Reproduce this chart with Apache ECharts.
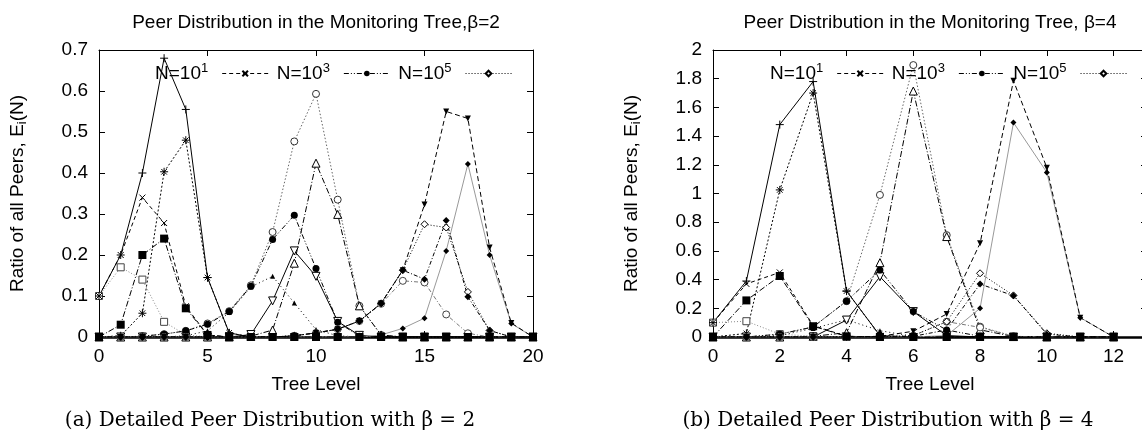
<!DOCTYPE html>
<html><head><meta charset="utf-8">
<script src="https://cdn.jsdelivr.net/npm/echarts@6/dist/echarts.min.js"></script>
<style>html,body{margin:0;padding:0;background:#fff}#c{width:1142px;height:432px}</style>
</head><body><div id="c"></div>
<script>
// ---------- data ----------
const levelsB2 = [0,1,2,3,4,5,6,7,8,9,10,11,12,13,14,15,16,17,18,19,20];
const levelsB4 = [0,1,2,3,4,5,6,7,8,9,10,11,12];
const legendNames = ['N=10^1','N=10^3','N=10^5'];
const xTicksB2 = {min:0, max:20, interval:5};
const xTicksB4 = {min:0, max:13, interval:2};
const yTicksB2 = {min:0, max:0.7, interval:0.1};
const yTicksB4 = {min:0, max:2, interval:0.2};

// beta = 2
const b2_n1_plus   = [0.1,0.2,0.4,0.68,0.555,0.145,0.01,0,0,0,0,0,0,0,0,0,0,0,0,0,0];
const b2_n1_cross  = [0.1,0.2,0.34,0.278,0.075,0.005,0,0,0,0,0,0,0,0,0,0,0,0,0,0,0];
const b2_n1_star   = [0,0.003,0.058,0.403,0.48,0.145,0.01,0,0,0,0,0,0,0,0,0,0,0,0,0,0];
const b2_n1_openSq = [0.1,0.17,0.14,0.037,0.005,0,0,0,0,0,0,0,0,0,0,0,0,0,0,0,0];
const b2_n1_fillSq = [0,0.03,0.2,0.24,0.07,0.005,0,0,0,0,0,0,0,0,0,0,0,0,0,0,0];
const b2_n3_openCirc = [0,0,0.002,0.007,0.015,0.033,0.063,0.126,0.256,0.477,0.593,0.335,0.076,0.005,0,0,0,0,0,0,0];
const b2_n3_fillCirc = [0,0,0.002,0.007,0.015,0.031,0.062,0.124,0.238,0.297,0.167,0.036,0.002,0,0,0,0,0,0,0,0];
const b2_n3_openTri  = [0,0,0,0,0,0,0,0.002,0.017,0.18,0.424,0.299,0.076,0.005,0,0,0,0,0,0,0];
const b2_n3_fillTri  = [0,0,0,0,0.003,0.015,0.06,0.122,0.148,0.083,0.018,0.003,0,0,0,0,0,0,0,0,0];
const b2_n3_openTriDn = [0,0,0,0,0,0,0,0.006,0.088,0.21,0.148,0.038,0.004,0,0,0,0,0,0,0,0];
const b2_n5_fillTriDn = [0,0,0,0,0,0,0,0,0,0.003,0.01,0.019,0.039,0.082,0.163,0.323,0.55,0.533,0.218,0.034,0];
const b2_n5_openDia  = [0,0,0,0,0,0,0,0,0,0.003,0.01,0.019,0.039,0.082,0.163,0.275,0.267,0.11,0.016,0,0];
const b2_n5_openPent = [0,0,0,0,0,0,0,0,0,0.003,0.01,0.019,0.039,0.081,0.137,0.133,0.055,0.009,0,0,0];
const b2_n5_fillDia  = [0,0,0,0,0,0,0,0,0,0.003,0.01,0.019,0.039,0.082,0.163,0.141,0.284,0.098,0.016,0,0];
const b2_n5_smallDot = [0,0,0,0,0,0,0,0,0,0,0,0,0,0.005,0.021,0.046,0.21,0.422,0.2,0.033,0];

// beta = 4
const b4_n1_plus   = [0.1,0.39,1.48,1.78,0.32,0.01,0,0,0,0,0,0,0];
const b4_n1_cross  = [0.1,0.37,0.45,0.08,0.005,0,0,0,0,0,0,0,0];
const b4_n1_star   = [0,0.025,1.025,1.7,0.32,0.01,0,0,0,0,0,0,0];
const b4_n1_openSq = [0.1,0.11,0.02,0.005,0,0,0,0,0,0,0,0,0];
const b4_n1_fillSq = [0,0.255,0.425,0.075,0.005,0,0,0,0,0,0,0,0];
const b4_n3_openCirc = [0,0,0.02,0.07,0.25,0.99,1.895,0.71,0.072,0.005,0,0,0];
const b4_n3_fillCirc = [0,0,0.02,0.07,0.25,0.467,0.177,0.049,0.005,0,0,0,0];
const b4_n3_openTri  = [0,0,0,0.005,0.03,0.518,1.714,0.7,0.05,0.003,0,0,0];
const b4_n3_fillTri  = [0,0,0.01,0.06,0.12,0.044,0.005,0,0,0,0,0,0];
const b4_n3_openTriDn = [0,0,0,0,0.118,0.42,0.177,0.01,0,0,0,0,0];
const b4_n5_fillTriDn = [0,0,0,0,0,0.005,0.04,0.16,0.653,1.786,1.18,0.135,0];
const b4_n5_openDia  = [0,0,0,0,0,0,0.01,0.107,0.444,0.29,0.026,0,0];
const b4_n5_openPent = [0,0,0,0,0,0,0.01,0.107,0.067,0.005,0,0,0];
const b4_n5_fillDia  = [0,0,0,0,0,0,0.005,0.049,0.369,0.288,0.02,0,0];
const b4_n5_smallDot = [0,0,0,0,0,0,0,0.01,0.2,1.494,1.147,0.135,0];

// ---------- styles ----------
const SANS = '"Liberation Sans", Arial, Helvetica, sans-serif';
const SERIF = '"DejaVu Serif", serif';
const PLUS = 'path://M5,0V10M0,5H10';
const CROSS = 'path://M0,0L10,10M10,0L0,10';
const STAR = 'path://M5,0V10M0,5H10M1.5,1.5L8.5,8.5M8.5,1.5L1.5,8.5';
const T = 'rgba(0,0,0,0)';
const ST = {
  plus:     {symbol:PLUS,  size:8, fill:T, stroke:'#000', bw:1, lc:'#000', dash:'solid'},
  cross:    {symbol:CROSS, size:6, fill:T, stroke:'#000', bw:1, lc:'#000', dash:[4,3]},
  star:     {symbol:STAR,  size:8, fill:T, stroke:'#000', bw:1, lc:'#000', dash:[2,2]},
  openSq:   {symbol:'rect', size:7, fill:'#fff', stroke:'#444', bw:1, lc:'#888', dash:[1,2]},
  fillSq:   {symbol:'rect', size:8, fill:'#000', stroke:'#000', bw:0, lc:'#000', dash:[6,2,1,2]},
  openCirc: {symbol:'circle', size:7, fill:'#fff', stroke:'#333', bw:1, lc:'#666', dash:[1.5,2]},
  fillCirc: {symbol:'circle', size:7, fill:'#000', stroke:'#000', bw:0, lc:'#000', dash:[5,2,1,2,1,2]},
  openTri:  {symbol:'triangle', size:8, fill:'#fff', stroke:'#000', bw:1, lc:'#000', dash:[6,2,1,2]},
  fillTri:  {symbol:'triangle', size:5, fill:'#000', stroke:'#000', bw:0, lc:'#000', dash:[1,3]},
  openTriDn:{symbol:'triangle', rot:180, size:8, fill:'#fff', stroke:'#000', bw:1, lc:'#000', dash:'solid'},
  fillTriDn:{symbol:'triangle', rot:180, size:6, fill:'#000', stroke:'#000', bw:0, lc:'#000', dash:[5,3]},
  openDia:  {symbol:'diamond', size:7, fill:'#fff', stroke:'#000', bw:1, lc:'#000', dash:[1,2]},
  fillDia:  {symbol:'diamond', size:7, fill:'#000', stroke:'#000', bw:0, lc:'#000', dash:[4,2,1,2]},
  openPent: {symbol:'circle', size:7, fill:'#fff', stroke:'#444', bw:1, lc:'#777', dash:[4,2,1,2]},
  smallDot: {symbol:'diamond', size:6, fill:'#000', stroke:'#000', bw:0, lc:'#999', dash:'solid'}
};

function mk(name, xs, ys, st, idx) {
  return {
    type:'line', name: name, xAxisIndex: idx*2, yAxisIndex: idx*2,
    data: xs.map((x,i)=>[x, ys[i]]),
    symbol: st.symbol, symbolSize: st.size, symbolRotate: st.rot || 0,
    showSymbol: true, animation: false, silent: true,
    lineStyle: {color: st.lc, width: 1, type: st.dash},
    itemStyle: {color: st.fill, borderColor: st.stroke, borderWidth: st.bw}
  };
}

function buildSeries(xs, sets, idx, prefix) {
  return sets.map(([key, ys]) => {
    let name = prefix + key;
    if (key === 'cross') name = legendNames[0];
    if (key === 'fillCirc') name = legendNames[1];
    if (key === 'openDia') name = legendNames[2];
    return mk(name, xs, ys, ST[key], idx);
  });
}

const setsB2 = [
  ['openSq', b2_n1_openSq], ['star', b2_n1_star], ['cross', b2_n1_cross], ['plus', b2_n1_plus],
  ['openCirc', b2_n3_openCirc], ['fillTri', b2_n3_fillTri], ['openTri', b2_n3_openTri],
  ['openTriDn', b2_n3_openTriDn], ['fillCirc', b2_n3_fillCirc],
  ['smallDot', b2_n5_smallDot], ['openPent', b2_n5_openPent], ['openDia', b2_n5_openDia],
  ['fillDia', b2_n5_fillDia], ['fillTriDn', b2_n5_fillTriDn], ['fillSq', b2_n1_fillSq]
];
const setsB4 = [
  ['openSq', b4_n1_openSq], ['star', b4_n1_star], ['cross', b4_n1_cross], ['plus', b4_n1_plus],
  ['openCirc', b4_n3_openCirc], ['fillTri', b4_n3_fillTri], ['openTri', b4_n3_openTri],
  ['openTriDn', b4_n3_openTriDn], ['fillCirc', b4_n3_fillCirc],
  ['smallDot', b4_n5_smallDot], ['openPent', b4_n5_openPent], ['openDia', b4_n5_openDia],
  ['fillDia', b4_n5_fillDia], ['fillTriDn', b4_n5_fillTriDn], ['fillSq', b4_n1_fillSq]
];

const axLine = {show:true, onZero:false, lineStyle:{color:'#000', width:1}};
const axLineBottom = {show:true, onZero:false, lineStyle:{color:'#000', width:2.5}};
const tick = {show:true, inside:true, length:6, lineStyle:{color:'#000', width:1}};
const lbl = {color:'#000', fontSize:19, fontFamily:SANS};

function xAxes(gi, t) {
  return [
    {gridIndex:gi, type:'value', min:t.min, max:t.max, interval:t.interval, position:'bottom',
     axisLine:axLineBottom, axisTick:tick, splitLine:{show:false},
     axisLabel:Object.assign({margin:10, showMaxLabel: t.max % t.interval === 0}, lbl),
     name:'Tree Level', nameLocation:'middle', nameGap:38, nameTextStyle:{color:'#000', fontSize:19, fontFamily:SANS}},
    {gridIndex:gi, type:'value', min:t.min, max:t.max, interval:t.interval, position:'top',
     axisLine:axLine, axisTick:tick, splitLine:{show:false}, axisLabel:{show:false}}
  ];
}
function yAxes(gi, t) {
  return [
    {gridIndex:gi, type:'value', min:t.min, max:t.max, interval:t.interval, position:'left',
     axisLine:axLine, axisTick:tick, splitLine:{show:false},
     axisLabel:Object.assign({margin:11}, lbl),
     name:'{t|Ratio of all Peers, E}{s|i}{t|(N)}', nameLocation:'middle', nameRotate:90, nameGap:70,
     nameTextStyle:{color:'#000', fontFamily:SANS, rich:{t:{fontSize:19, fontFamily:SANS, color:'#000'}, s:{fontSize:13, fontFamily:SANS, color:'#000', padding:[9,0,0,0]}}}},
    {gridIndex:gi, type:'value', min:t.min, max:t.max, interval:t.interval, position:'right',
     axisLine:axLine, axisTick:tick, splitLine:{show:false}, axisLabel:{show:false}}
  ];
}

function legend(left) {
  return {
    left: left, top: 57, orient:'horizontal', align:'right', selectedMode:false,
    itemWidth: 46, itemHeight: 7, itemGap: 8,
    data: legendNames,
    lineStyle: {width: 1},
    formatter: n => '{t|N=10}{s|' + n.split('^')[1] + '}',
    textStyle: {color:'#000', fontFamily:SANS, fontSize:19, padding:[0,9,0,0],
      rich:{t:{fontSize:19, fontFamily:SANS, color:'#000'}, s:{fontSize:13, fontFamily:SANS, color:'#000', padding:[0,0,10,0]}}}
  };
}

const chart = echarts.init(document.getElementById('c'), null, {renderer:'canvas'});
chart.setOption({
  animation: false,
  backgroundColor: '#fff',
  grid: [
    {left:99, top:50, width:434, height:287, outerBoundsMode:'none', containLabel:false},
    {left:713, top:50, width:434, height:287, outerBoundsMode:'none', containLabel:false}
  ],
  xAxis: [...xAxes(0, xTicksB2), ...xAxes(1, xTicksB4)],
  yAxis: [...yAxes(0, yTicksB2), ...yAxes(1, yTicksB4)],
  legend: [legend(150), legend(765)],
  graphic: [
    {type:'text', x:316, y:23, style:{text:'Peer Distribution in the Monitoring Tree,β=2', fill:'#000', fontSize:19, fontFamily:SANS, align:'center', verticalAlign:'middle'}},
    {type:'text', x:930, y:23, style:{text:'Peer Distribution in the Monitoring Tree, β=4', fill:'#000', fontSize:19, fontFamily:SANS, align:'center', verticalAlign:'middle'}},
    {type:'text', x:270, y:421, style:{text:'(a) Detailed Peer Distribution with β = 2', fill:'#000', fontSize:20, fontFamily:SERIF, align:'center', verticalAlign:'middle'}},
    {type:'text', x:888, y:421, style:{text:'(b) Detailed Peer Distribution with β = 4', fill:'#000', fontSize:20, fontFamily:SERIF, align:'center', verticalAlign:'middle'}}
  ],
  series: [...buildSeries(levelsB2, setsB2, 0, 'b2-'), ...buildSeries(levelsB4, setsB4, 1, 'b4-')]
});
</script>
</body></html>
